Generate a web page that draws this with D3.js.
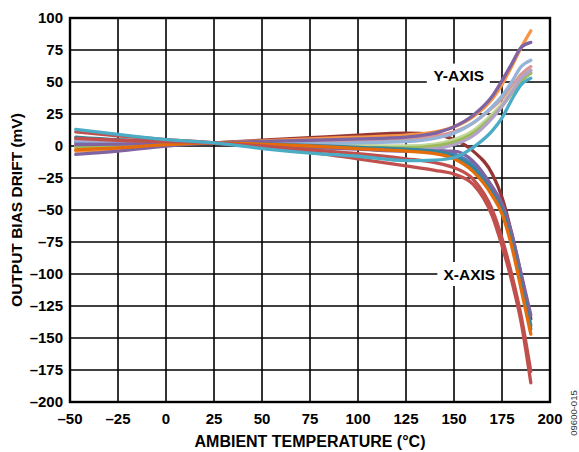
<!DOCTYPE html>
<html>
<head>
<meta charset="utf-8">
<script src="https://cdn.jsdelivr.net/npm/d3@7"></script>
<style>
  body { margin: 0; background: #fff; }
  svg { display: block; }
</style>
</head>
<body>
<svg id="chart" width="579" height="452"></svg>
<script>
const width = 579, height = 452;
const margin = {top: 18, right: 29, bottom: 50, left: 70};

const xTicks = [-50, -25, 0, 25, 50, 75, 100, 125, 150, 175, 200];
const yTicks = [100, 75, 50, 25, 0, -25, -50, -75, -100, -125, -150, -175, -200];

// temperature samples (°C)
const temps = [-47, -25, 0, 25, 50, 75, 100, 125, 140, 150, 160, 170, 175, 180, 185, 190];

// Y-axis parts (drift upward at high temperature)
const yOrange   = [-4, -2.5, 1, 2.5, 4, 5.5, 7, 8.5, 11, 15, 23, 37, 48, 62, 77, 90];
const yPurple   = [-6.5, -4, 0, 2.5, 3.5, 4.5, 5.5, 7, 10, 15, 24, 39, 51, 64, 77, 81];
const yLtBlue   = [4, 3.5, 3, 2.5, 2, 2, 2.5, 3.5, 6, 10, 18, 31, 39, 50, 62, 67];
const yPink     = [2, 2, 2.5, 2.5, 3, 4, 4.5, 5.5, 7.5, 11, 18, 30, 37, 46, 56, 62];
const yLtGreen  = [0, 1, 2, 2.5, 2, 1, 0.5, 0, 1.5, 5, 12, 25, 33, 43, 53, 59];
const yGreen    = [-1, 0, 1.5, 2.5, 1.5, 0, -1, -1.5, 0, 3, 10, 23, 31, 41, 51, 57];
const yLavender = [5, 4, 3, 2.5, 1, -1, -2, -3, -2, 1, 8, 22, 31, 42, 53, 59];
const yAqua     = [13, 9, 5, 2.5, -2, -5.5, -8, -11.5, -11, -9, -1, 12, 22, 36, 48, 53];

// X-axis parts (drift downward at high temperature)
const xBlue     = [3, 2.5, 2.5, 2.5, 2, 1, 0, -1.5, -3, -6, -15, -35, -48, -72, -105, -140];
const xPurple   = [1, 1.5, 2, 2.5, 1, -1, -2.5, -4, -4, -4, -12, -32, -45, -68, -100, -132];
const xTeal     = [7, 5, 4, 2.5, 1.5, 0.5, -1, -2.5, -4, -8, -17, -37, -50, -75, -108, -143];
const xOrange   = [-3, -1.5, 1, 2.5, 1.5, 0, -2, -4, -6, -10, -20, -39, -53, -78, -112, -147];
const xDarkRed  = [0, 1, 2, 2.5, 4.5, 6.5, 8.5, 10, 9, 5, -4, -22, -40, -68, -101, -135];
const xRed      = [11, 8, 5, 2.5, -1, -5, -10, -15.5, -19, -22, -30, -55, -78, -105, -138, -185];
const xRed2     = [6, 4.5, 3.5, 2.5, 0, -3, -6, -10, -13, -17, -26, -50, -72, -100, -133, -176];

const series = [
  {values: xDarkRed, color: "#943634"},
  {values: yOrange,  color: "#F79646"},
  {values: yPink,    color: "#D99694"},
  {values: xBlue,    color: "#4F81BD"},
  {values: yLtGreen, color: "#C3D69B"},
  {values: yGreen,   color: "#9BBB59"},
  {values: yLtBlue,  color: "#95B3D7"},
  {values: yLavender,color: "#B3A2C7"},
  {values: xPurple,  color: "#8064A2"},
  {values: yPurple,  color: "#8064A2"},
  {values: xTeal,    color: "#31859C"},
  {values: xOrange,  color: "#E46C0A"},
  {values: xRed2,    color: "#C0504D"},
  {values: xRed,     color: "#C0504D"},
  {values: yAqua,    color: "#4BACC6"}
];

const svg = d3.select("#chart");

const x = d3.scaleLinear().domain([-50, 200]).range([margin.left, width - margin.right]);
const y = d3.scaleLinear().domain([-200, 100]).range([height - margin.bottom, margin.top]);

const font = "'Liberation Sans', Arial, sans-serif";

// grid
svg.append("g")
    .attr("stroke", "#000")
    .attr("stroke-width", 1.6)
  .selectAll("line")
  .data(xTicks)
  .join("line")
    .attr("x1", d => x(d)).attr("x2", d => x(d))
    .attr("y1", y(100)).attr("y2", y(-200));

svg.append("g")
    .attr("stroke", "#000")
    .attr("stroke-width", 1.6)
  .selectAll("line")
  .data(yTicks)
  .join("line")
    .attr("x1", x(-50)).attr("x2", x(200))
    .attr("y1", d => y(d)).attr("y2", d => y(d));

// frame
svg.append("rect")
    .attr("x", x(-50)).attr("y", y(100))
    .attr("width", x(200) - x(-50)).attr("height", y(-200) - y(100))
    .attr("fill", "none")
    .attr("stroke", "#000")
    .attr("stroke-width", 2.4);

// axis-name boxes (cover the grid behind the text)
const notes = [
  {text: "Y-AXIS", t: 152.5, v: 55},
  {text: "X-AXIS", t: 158, v: -100}
];

svg.append("g")
  .selectAll("rect")
  .data(notes)
  .join("rect")
    .attr("x", d => x(d.t) - 32)
    .attr("y", d => y(d.v) - 12)
    .attr("width", 63)
    .attr("height", 24)
    .attr("fill", "#fff");

// curves
const line = d3.line()
    .x((d, i) => x(temps[i]))
    .y(d => y(d))
    .curve(d3.curveMonotoneX);

svg.append("g")
    .attr("fill", "none")
    .attr("stroke-width", 3.3)
    .attr("stroke-linecap", "round")
    .attr("stroke-linejoin", "round")
  .selectAll("path")
  .data(series)
  .join("path")
    .attr("stroke", d => d.color)
    .attr("d", d => line(d.values));

svg.append("g")
    .attr("font-family", font)
    .attr("font-weight", "bold")
    .attr("font-size", 15.5)
    .attr("text-anchor", "middle")
  .selectAll("text")
  .data(notes)
  .join("text")
    .attr("x", d => x(d.t))
    .attr("y", d => y(d.v))
    .attr("dy", "0.36em")
    .text(d => d.text);

// tick labels
const fmt = d => d < 0 ? "\u2013" + Math.abs(d) : String(d);

svg.append("g")
    .attr("font-family", font)
    .attr("font-weight", "bold")
    .attr("font-size", 15)
    .attr("text-anchor", "end")
  .selectAll("text")
  .data(yTicks)
  .join("text")
    .attr("x", x(-50) - 7)
    .attr("y", d => y(d))
    .attr("dy", "0.36em")
    .text(fmt);

svg.append("g")
    .attr("font-family", font)
    .attr("font-weight", "bold")
    .attr("font-size", 15)
    .attr("text-anchor", "middle")
  .selectAll("text")
  .data(xTicks)
  .join("text")
    .attr("x", d => x(d))
    .attr("y", y(-200) + 22)
    .text(fmt);

// axis titles
svg.append("text")
    .attr("x", (x(-50) + x(200)) / 2)
    .attr("y", 447)
    .attr("font-family", font)
    .attr("font-weight", "bold")
    .attr("font-size", 16)
    .attr("text-anchor", "middle")
    .text("AMBIENT TEMPERATURE (\u00B0C)");

svg.append("text")
    .attr("transform", `translate(22,${(y(100) + y(-200)) / 2}) rotate(-90)`)
    .attr("font-family", font)
    .attr("font-weight", "bold")
    .attr("font-size", 15.5)
    .attr("text-anchor", "middle")
    .text("OUTPUT BIAS DRIFT (mV)");

svg.append("text")
    .attr("transform", "translate(577,413) rotate(-90)")
    .attr("font-family", font)
    .attr("font-size", 9.5)
    .attr("fill", "#333")
    .attr("text-anchor", "middle")
    .text("09600-015");
</script>
</body>
</html>
